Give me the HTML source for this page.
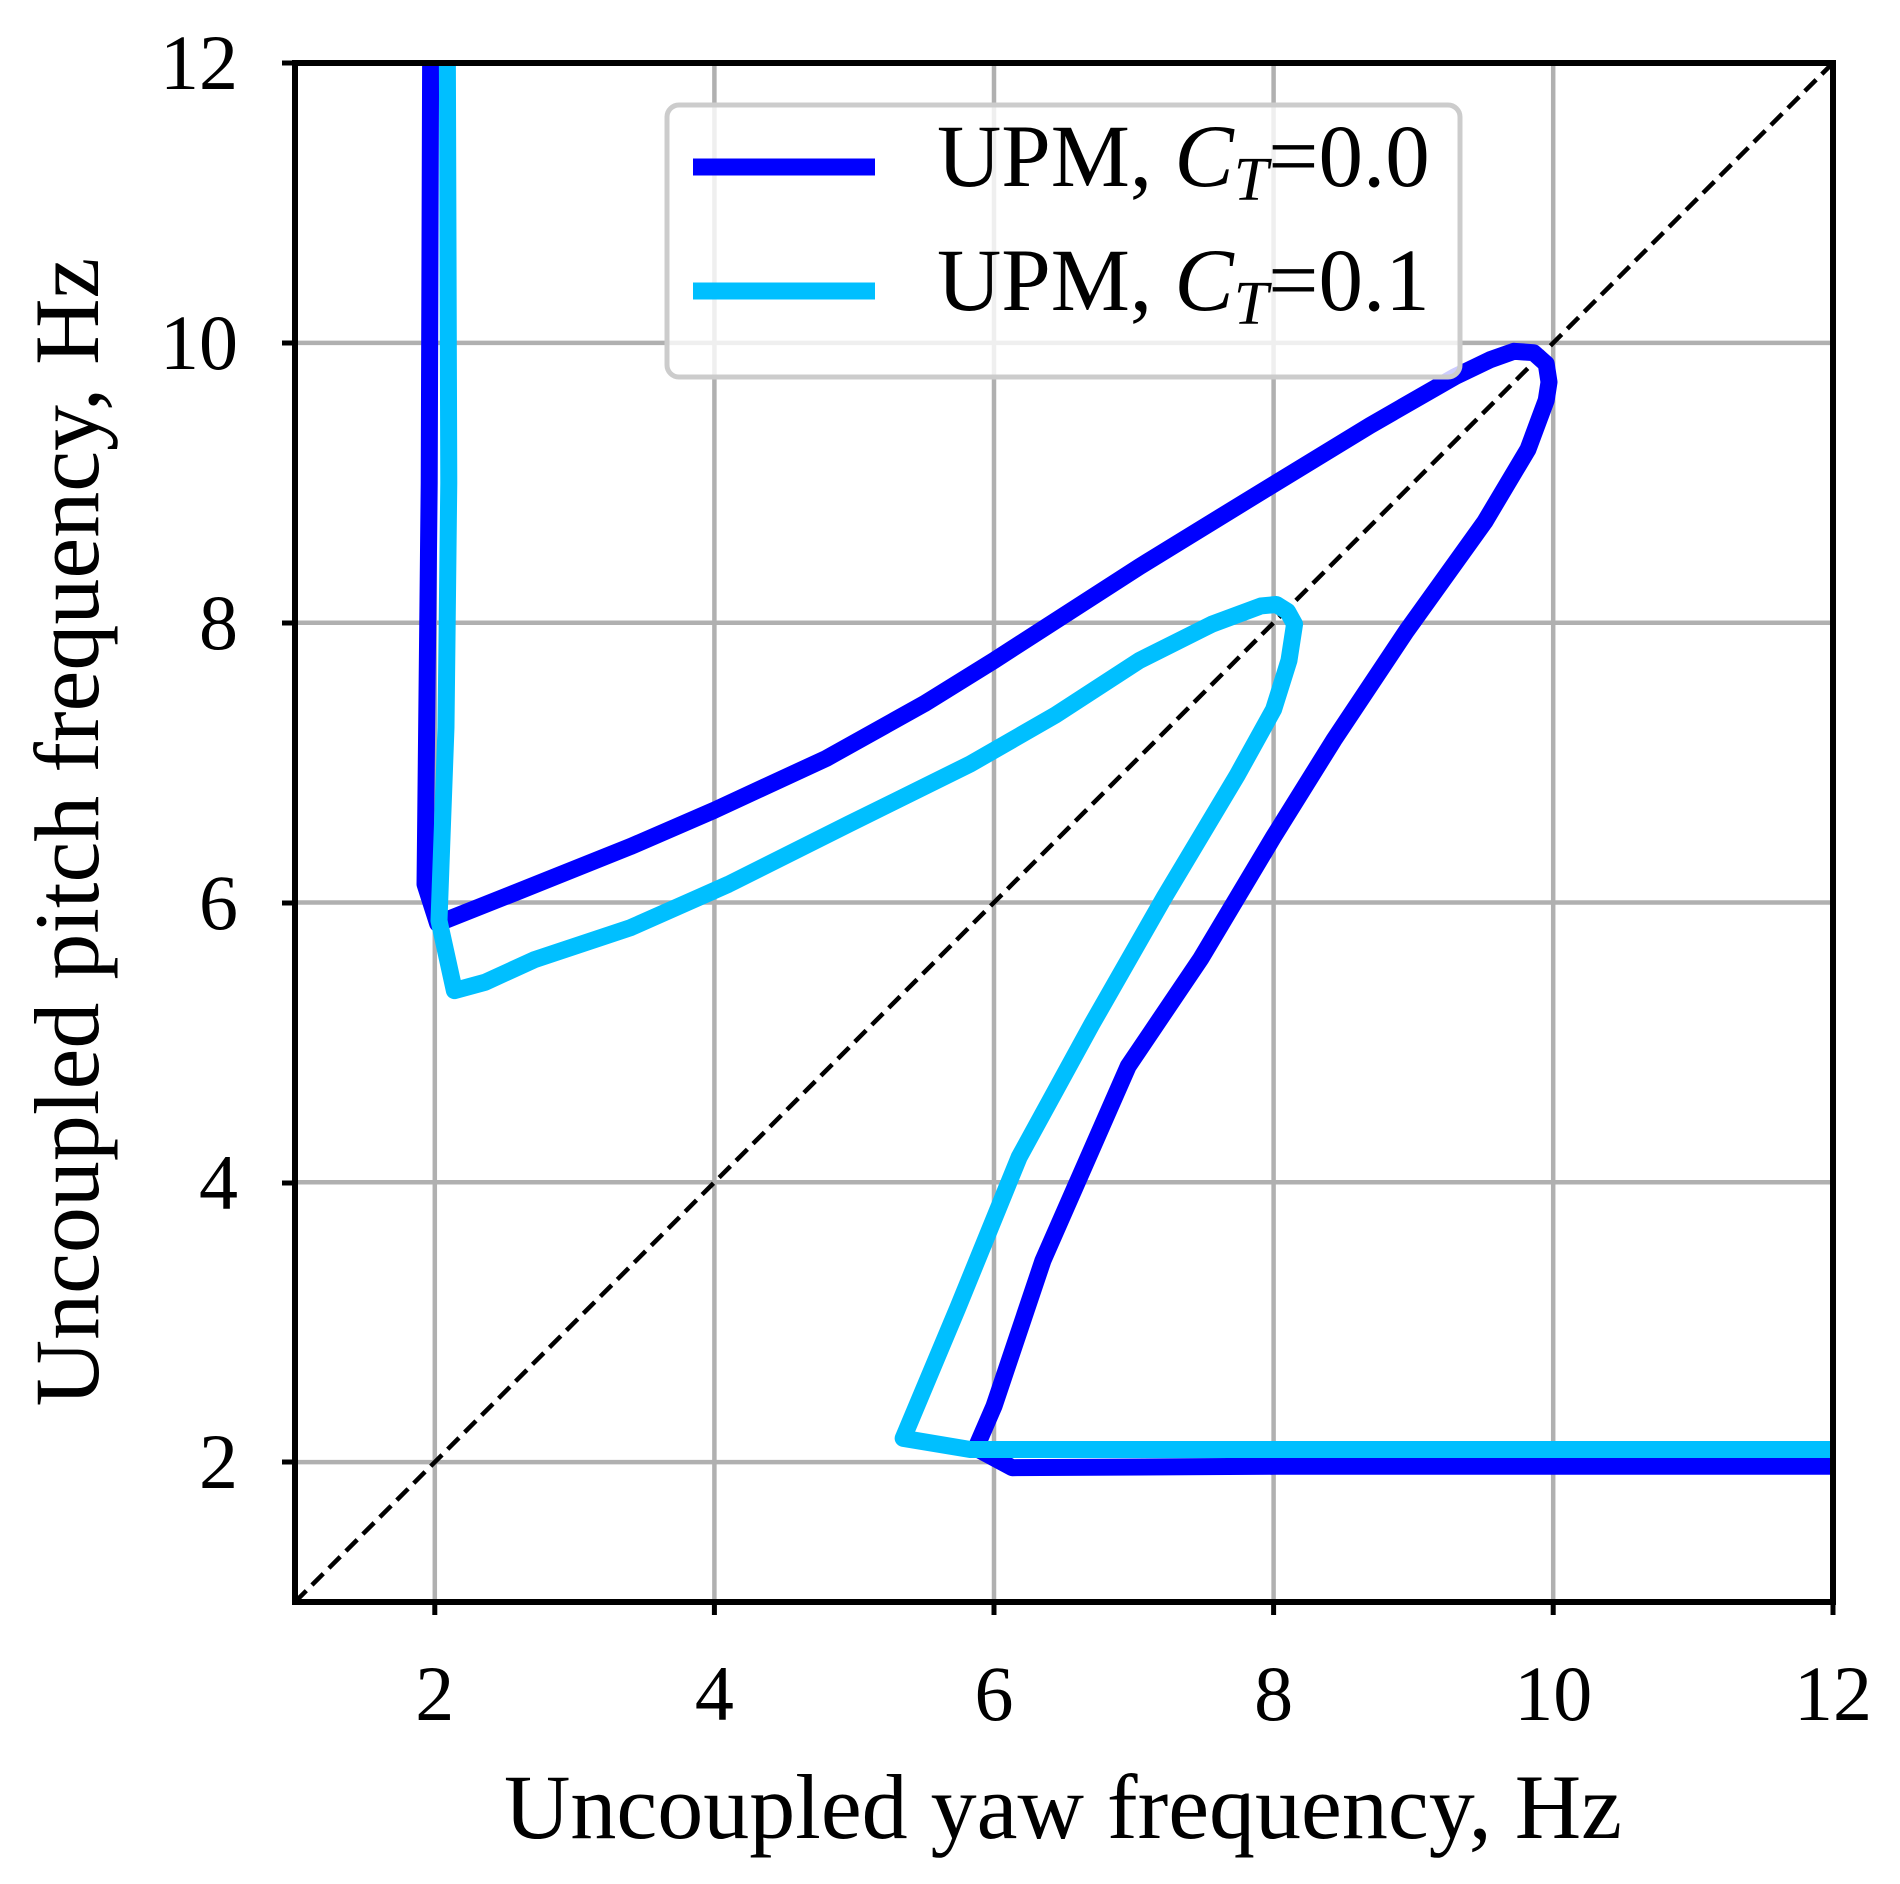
<!DOCTYPE html>
<html><head><style>
html,body{margin:0;padding:0;background:#fff;}
svg{display:block;}
text{font-family:"Liberation Serif",serif;fill:#000;}
</style></head><body>
<svg width="1900" height="1884" viewBox="0 0 1900 1884" xmlns="http://www.w3.org/2000/svg">
<g transform="translate(295,1602) scale(139.8,-139.9) translate(-1,-1)">
  <g stroke="#b0b0b0" stroke-width="4.5" fill="none">
    <line x1="2" y1="1" x2="2" y2="12" vector-effect="non-scaling-stroke"/>
    <line x1="4" y1="1" x2="4" y2="12" vector-effect="non-scaling-stroke"/>
    <line x1="6" y1="1" x2="6" y2="12" vector-effect="non-scaling-stroke"/>
    <line x1="8" y1="1" x2="8" y2="12" vector-effect="non-scaling-stroke"/>
    <line x1="10" y1="1" x2="10" y2="12" vector-effect="non-scaling-stroke"/>
    <line x1="1" y1="2" x2="12" y2="2" vector-effect="non-scaling-stroke"/>
    <line x1="1" y1="4" x2="12" y2="4" vector-effect="non-scaling-stroke"/>
    <line x1="1" y1="6" x2="12" y2="6" vector-effect="non-scaling-stroke"/>
    <line x1="1" y1="8" x2="12" y2="8" vector-effect="non-scaling-stroke"/>
    <line x1="1" y1="10" x2="12" y2="10" vector-effect="non-scaling-stroke"/>
  </g>
  <line x1="1" y1="1" x2="12" y2="12" stroke="#000" stroke-width="4.5" stroke-dasharray="16,8" vector-effect="non-scaling-stroke"/>
  <polyline fill="none" stroke="#0000ff" stroke-width="17" stroke-linejoin="round" vector-effect="non-scaling-stroke"
   points="1.97,12 1.96,9 1.93,6.13 2.02,5.85 2.6,6.08 3.4,6.4 4.0,6.66 4.8,7.03 5.5,7.42 6.0,7.73 7.04,8.4 7.74,8.83 8.69,9.41 9.3,9.76 9.55,9.88 9.72,9.94 9.86,9.93 9.95,9.85 9.97,9.72 9.95,9.59 9.82,9.24 9.51,8.72 8.95,7.94 8.43,7.16 8.0,6.47 7.48,5.6 6.96,4.83 6.35,3.44 6.0,2.4 5.87,2.1 6.13,1.96 8,1.97 12,1.97"/>
  <polyline fill="none" stroke="#00bfff" stroke-width="17" stroke-linejoin="round" vector-effect="non-scaling-stroke"
   points="2.09,12 2.1,9 2.08,7.25 2.03,5.87 2.14,5.37 2.36,5.43 2.71,5.59 3.4,5.82 4.1,6.13 4.96,6.56 5.83,6.99 6.44,7.34 7.04,7.73 7.56,7.99 7.91,8.12 8.02,8.13 8.1,8.08 8.15,7.99 8.11,7.73 8.0,7.38 7.74,6.91 7.22,6.04 6.7,5.13 6.18,4.18 5.74,3.1 5.35,2.17 5.83,2.09 7,2.09 12,2.09"/>
</g>
<rect x="295" y="63" width="1538" height="1539" fill="none" stroke="#000" stroke-width="6"/>
<g stroke="#000" stroke-width="5">
  <line x1="434.8" y1="1602" x2="434.8" y2="1615"/>
  <line x1="714.4" y1="1602" x2="714.4" y2="1615"/>
  <line x1="994" y1="1602" x2="994" y2="1615"/>
  <line x1="1273.6" y1="1602" x2="1273.6" y2="1615"/>
  <line x1="1553.2" y1="1602" x2="1553.2" y2="1615"/>
  <line x1="1833" y1="1602" x2="1833" y2="1615"/>
  <line x1="282" y1="1462" x2="295" y2="1462"/>
  <line x1="282" y1="1183" x2="295" y2="1183"/>
  <line x1="282" y1="903" x2="295" y2="903"/>
  <line x1="282" y1="623" x2="295" y2="623"/>
  <line x1="282" y1="343" x2="295" y2="343"/>
  <line x1="282" y1="63" x2="295" y2="63"/>
</g>
<g font-size="78" text-anchor="middle">
  <text x="434.8" y="1720">2</text>
  <text x="714.4" y="1720">4</text>
  <text x="994" y="1720">6</text>
  <text x="1273.6" y="1720">8</text>
  <text x="1553.2" y="1720">10</text>
  <text x="1833" y="1720">12</text>
</g>
<g font-size="78" text-anchor="end">
  <text x="238" y="1488">2</text>
  <text x="238" y="1209">4</text>
  <text x="238" y="929">6</text>
  <text x="238" y="649">8</text>
  <text x="238" y="369">10</text>
  <text x="238" y="89">12</text>
</g>
<text x="1063" y="1838" font-size="92" text-anchor="middle">Uncoupled yaw frequency, Hz</text>
<text transform="translate(98,832) rotate(-90)" font-size="92" text-anchor="middle">Uncoupled pitch frequency, Hz</text>
<rect x="667" y="105" width="793" height="272" rx="12" fill="#fff" fill-opacity="0.8" stroke="#cccccc" stroke-width="5"/>
<line x1="693" y1="167" x2="875" y2="167" stroke="#0000ff" stroke-width="17"/>
<line x1="693" y1="291" x2="875" y2="291" stroke="#00bfff" stroke-width="17"/>
<text x="937" y="186" font-size="89">UPM, <tspan font-style="italic">C</tspan><tspan font-style="italic" font-size="62" dy="14">T</tspan><tspan dy="-14">=0.0</tspan></text>
<text x="937" y="310" font-size="89">UPM, <tspan font-style="italic">C</tspan><tspan font-style="italic" font-size="62" dy="14">T</tspan><tspan dy="-14">=0.1</tspan></text>
</svg>
</body></html>
